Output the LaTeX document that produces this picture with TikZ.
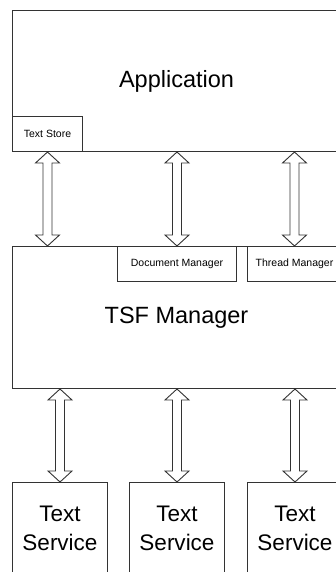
\documentclass[tikz,border=0pt]{standalone}
\usepackage{fontspec}
\setmainfont{Liberation Sans}
\usetikzlibrary{calc}
\newcommand\dblarrow[2]{\draw[arr] (#1) -- ++(12,11) -- ++(-7.5,0) -- ($(#2)+(4.5,-11)$) -- ++(7.5,0) -- (#2) -- ++(-12,-11) -- ++(7.5,0) -- ($(#1)+(-4.5,11)$) -- ++(-7.5,0) -- cycle;}
\begin{document}
\begin{tikzpicture}[x=1pt,y=-1pt,
  box/.style={draw=black!80, line width=1pt, inner sep=0pt, anchor=north west, fill=white},
  big/.style={font=\fontsize{23.5}{28}\selectfont},
  svc/.style={font=\fontsize{22.5}{28.5}\selectfont, align=center},
  small/.style={font=\fontsize{10.5}{12}\selectfont},
  arr/.style={draw=black!80, line width=0.9pt, fill=white, line join=miter}]
\useasboundingbox (0,0) rectangle (336,572);
\clip (0,0) rectangle (336,572);
% Application
\node[box, big, minimum width=328, minimum height=141] (app) at (12,10) {Application};
\node[box, small, minimum width=70, minimum height=35] (ts) at (12,116) {Text Store};
% TSF Manager
\node[box, big, minimum width=328, minimum height=142] (tsf) at (12,246) {TSF Manager};
\node[box, small, minimum width=119, minimum height=35] (dm) at (117,246) {Document Manager};
\node[box, small, minimum width=94, minimum height=35] (thm) at (247,246) {Thread Manager};
% Text Services
\node[box, svc, minimum width=95, minimum height=92] (s1) at (12,482) {Text\\Service};
\node[box, svc, minimum width=95, minimum height=92] (s2) at (129,482) {Text\\Service};
\node[box, svc, minimum width=95, minimum height=92] (s3) at (247,482) {Text\\Service};
% arrow end points
\coordinate (a1) at (app.south -| ts.south);
\coordinate (b1) at (tsf.north -| ts.south);
\coordinate (a2) at (app.south -| dm.north);
\coordinate (a3) at (app.south -| thm.north);
\coordinate (c1) at (tsf.south -| s1.north);
\coordinate (c2) at (tsf.south -| s2.north);
\coordinate (c3) at (tsf.south -| s3.north);
\dblarrow{a1}{b1}
\dblarrow{a2}{dm.north}
\dblarrow{a3}{thm.north}
\dblarrow{c1}{s1.north}
\dblarrow{c2}{s2.north}
\dblarrow{c3}{s3.north}
\end{tikzpicture}
\end{document}
